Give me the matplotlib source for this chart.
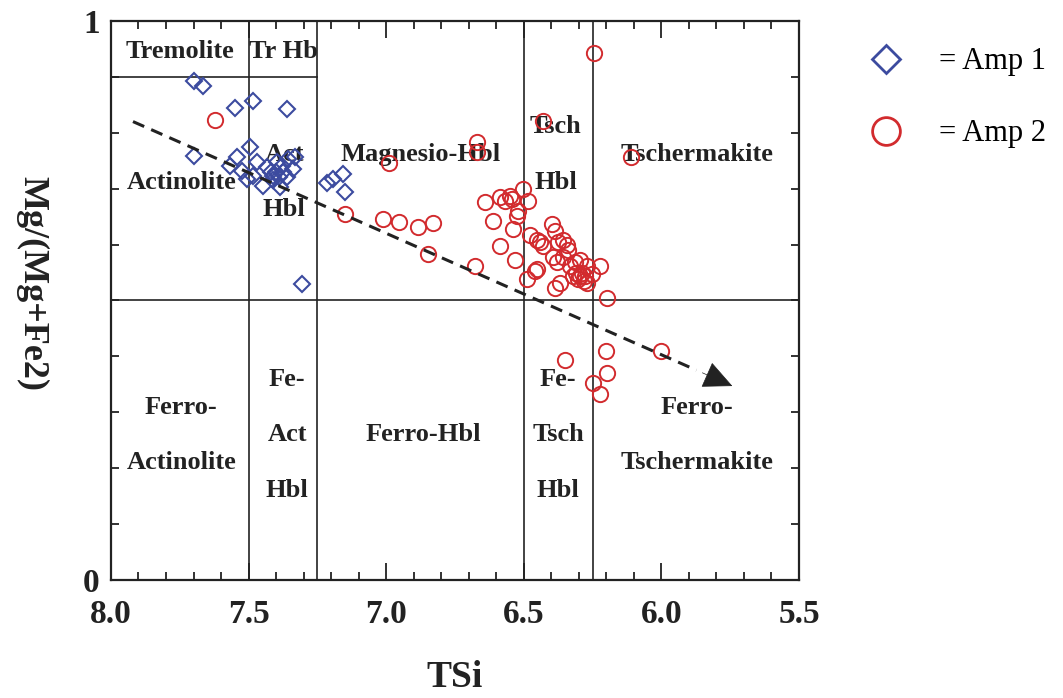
import matplotlib
matplotlib.use('Agg')
import matplotlib.pyplot as plt
from matplotlib.lines import Line2D
import numpy as np

plt.rcParams['font.family'] = ['Liberation Serif', 'DejaVu Serif']

# Amp 1 (blue diamonds)
amp1_tsi = [7.70, 7.664, 7.549, 7.483, 7.361, 7.70, 7.495, 7.543, 7.567, 7.525,
            7.47, 7.483, 7.507, 7.434, 7.447, 7.397, 7.375, 7.356, 7.331, 7.385,
            7.338, 7.411, 7.40, 7.39, 7.42, 7.38, 7.41, 7.36,
            7.215, 7.193, 7.156, 7.149, 7.305]
amp1_mg = [0.893, 0.883, 0.845, 0.857, 0.842, 0.759, 0.775, 0.756, 0.741, 0.732,
           0.747, 0.723, 0.717, 0.738, 0.705, 0.747, 0.729, 0.753, 0.756, 0.703,
           0.735, 0.722, 0.730, 0.720, 0.730, 0.740, 0.715, 0.720,
           0.711, 0.717, 0.726, 0.694, 0.529]

# Amp 2 (red circles)
amp2_tsi = [7.622, 6.989, 7.149, 7.011, 6.953, 6.884, 6.829, 6.847, 6.244, 6.429,
            6.669, 6.669, 6.109, 6.676, 6.64, 6.585, 6.567, 6.549, 6.502, 6.542,
            6.484, 6.52, 6.611, 6.524, 6.538, 6.476, 6.451, 6.44, 6.429, 6.396,
            6.385, 6.356, 6.375, 6.342, 6.338, 6.585, 6.531, 6.451, 6.458, 6.487,
            6.393, 6.378, 6.356, 6.331, 6.313, 6.295, 6.269, 6.222, 6.367, 6.32,
            6.302, 6.295, 6.276, 6.251, 6.31, 6.29, 6.28, 6.269, 6.385, 6.196,
            6.349, 6.2, 6.196, 6.247, 6.222, 6.0]
amp2_mg = [0.823, 0.746, 0.654, 0.645, 0.640, 0.631, 0.638, 0.584, 0.943, 0.821,
           0.783, 0.765, 0.756, 0.561, 0.676, 0.685, 0.678, 0.687, 0.699, 0.681,
           0.678, 0.660, 0.642, 0.651, 0.627, 0.618, 0.609, 0.604, 0.597, 0.636,
           0.624, 0.609, 0.604, 0.600, 0.591, 0.597, 0.573, 0.556, 0.552, 0.538,
           0.577, 0.568, 0.577, 0.561, 0.568, 0.573, 0.561, 0.561, 0.532, 0.543,
           0.538, 0.543, 0.543, 0.547, 0.550, 0.550, 0.535, 0.532, 0.523, 0.505,
           0.394, 0.410, 0.371, 0.353, 0.332, 0.409]

# trend arrow
trend_tsi = [7.92, 5.742]
trend_mg = [0.82, 0.347]

# field boundaries
si_bounds = [7.5, 7.25, 6.5, 6.25]

# field names: (TSi, Mg#, text)
fields = [
    (7.75, 0.945, 'Tremolite'), (7.375, 0.945, 'Tr Hb'),
    (7.745, 0.711, 'Actinolite'), (7.37, 0.762, 'Act'), (7.37, 0.663, 'Hbl'),
    (6.875, 0.762, 'Magnesio-Hbl'), (6.385, 0.812, 'Tsch'), (6.385, 0.711, 'Hbl'),
    (5.87, 0.762, 'Tschermakite'),
    (7.745, 0.308, 'Ferro-'), (7.745, 0.21, 'Actinolite'),
    (7.36, 0.358, 'Fe-'), (7.36, 0.26, 'Act'), (7.36, 0.161, 'Hbl'),
    (6.865, 0.26, 'Ferro-Hbl'),
    (6.375, 0.358, 'Fe-'), (6.375, 0.26, 'Tsch'), (6.375, 0.161, 'Hbl'),
    (5.87, 0.308, 'Ferro-'), (5.87, 0.21, 'Tschermakite'),
]

blue = '#3c4b9f'
red = '#d22b2e'
ink = '#222222'

fig = plt.figure(figsize=(10.63, 6.98), dpi=100)
ax = fig.add_axes([0.1044, 0.169, 0.6472, 0.801])

for s in si_bounds:
    ax.axvline(s, color=ink, lw=1.2, zorder=1)
ax.axhline(0.5, color=ink, lw=1.2, zorder=1)
ax.plot([8.0, 7.25], [0.9, 0.9], color=ink, lw=1.2, zorder=1)

for x, y, t in fields:
    ax.text(x, y, t, ha='center', va='center', fontsize=19, fontweight='bold',
            color=ink, zorder=2)

ax.plot(amp1_tsi, amp1_mg, 'D', ms=8, mfc='none', mec=blue, mew=1.5, zorder=3)
ax.plot(amp2_tsi, amp2_mg, 'o', ms=11, mfc='none', mec=red, mew=1.4, zorder=3)

# dashed trend line with a solid head
dx = trend_tsi[1] - trend_tsi[0]
dy = trend_mg[1] - trend_mg[0]
ax.plot([trend_tsi[0], trend_tsi[1] - 0.06 * dx], [trend_mg[0], trend_mg[1] - 0.06 * dy],
        color=ink, lw=2.2, ls=(0, (4, 2.5)), zorder=4)
ax.annotate('', xy=(trend_tsi[1], trend_mg[1]),
            xytext=(trend_tsi[1] - 0.05 * dx, trend_mg[1] - 0.05 * dy),
            arrowprops=dict(arrowstyle='-|>,head_length=0.6,head_width=0.28',
                            lw=0.5, color=ink, mutation_scale=32,
                            shrinkA=0, shrinkB=0), zorder=4)

ax.set_xlim(8.0, 5.5)
ax.set_ylim(0, 1)
ax.set_xticks(np.arange(8.0, 5.49, -0.5))
ax.set_xticks(np.arange(8.0, 5.49, -0.1), minor=True)
ax.set_xticklabels(['8.0', '7.5', '7.0', '6.5', '6.0', '5.5'])
ax.set_yticks([0, 1])
ax.set_yticklabels(['0', '1'])
ax.set_yticks(np.arange(0.1, 0.95, 0.1), minor=True)
ax.tick_params(which='both', direction='in', top=True, right=True, color=ink,
               width=1.3, labelsize=24, labelcolor=ink)
ax.tick_params(which='major', length=12, pad=8)
ax.tick_params(axis='x', which='major', pad=14)
ax.tick_params(which='minor', length=6)
for lab in ax.get_xticklabels() + ax.get_yticklabels():
    lab.set_fontweight('bold')
for sp in ax.spines.values():
    sp.set_linewidth(1.6)
    sp.set_color(ink)

ax.set_xlabel('TSi', fontsize=27, fontweight='bold', color=ink)
ax.xaxis.set_label_coords(0.5, -0.143)
ax.set_ylabel('Mg/(Mg+Fe2)', fontsize=26, fontweight='bold', color=ink,
              rotation=270, va='center')
ax.yaxis.set_label_coords(-0.115, 0.53)

handles = [
    Line2D([], [], marker='D', ls='none', ms=14, mfc='none', mec=blue, mew=2),
    Line2D([], [], marker='o', ls='none', ms=20, mfc='none', mec=red, mew=2),
]
fig.legend(handles, ['= Amp 1', '= Amp 2'], loc='upper left',
           bbox_to_anchor=(0.819, 0.932), frameon=False, fontsize=22,
           handlelength=1.0, handletextpad=1.25, labelspacing=1.4,
           borderpad=0, borderaxespad=0)

fig.savefig('out.png', dpi=100)
